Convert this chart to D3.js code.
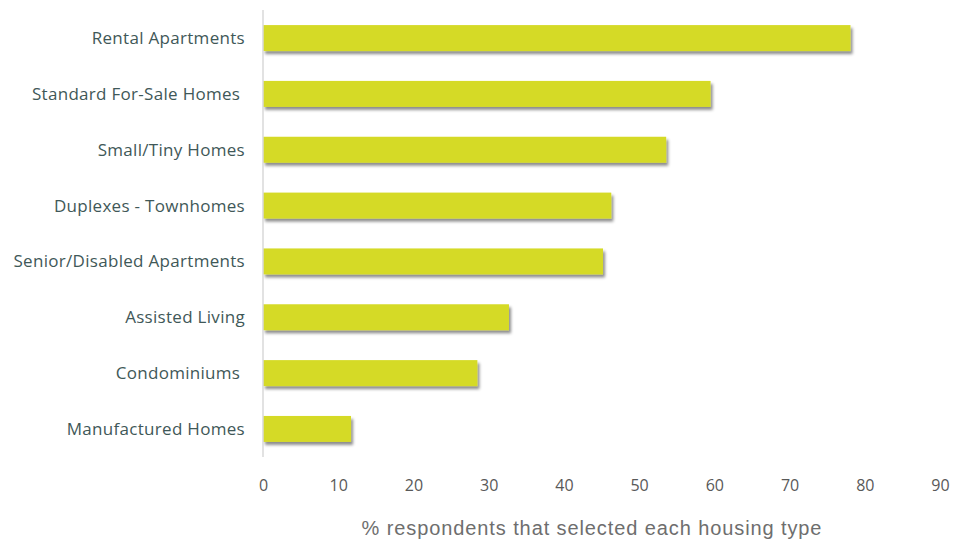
<!DOCTYPE html>
<html>
<head>
<meta charset="utf-8">
<script src="https://cdn.jsdelivr.net/npm/d3@7"></script>
<style>
  body { margin: 0; background: #fff; }
</style>
</head>
<body>
<script>
// categories, top to bottom
var categories = ["Rental Apartments", "Standard For-Sale Homes ", "Small/Tiny Homes", "Duplexes - Townhomes",
  "Senior/Disabled Apartments", "Assisted Living", "Condominiums ", "Manufactured Homes"];
// % respondents
var values = [78.1, 59.5, 53.6, 46.3, 45.2, 32.7, 28.5, 11.7];
var tickValues = [0, 10, 20, 30, 40, 50, 60, 70, 80, 90];

var width = 956, height = 539;

var svg = d3.select("body").append("svg")
    .attr("width", width)
    .attr("height", height);

// drop shadow under the bars
var defs = svg.append("defs");
defs.append("filter")
    .attr("id", "shadow")
    .attr("x", "-5%").attr("y", "-30%")
    .attr("width", "115%").attr("height", "180%")
  .append("feDropShadow")
    .attr("dx", 2).attr("dy", 3)
    .attr("stdDeviation", 1.8)
    .attr("flood-color", "#000")
    .attr("flood-opacity", 0.45);

var x = d3.scaleLinear().domain([0, 90]).range([263, 940]);
var y = d3.scaleBand().domain(categories).range([10, 457]).paddingInner(0.535).paddingOuter(0.27);

// bars
svg.selectAll("rect.bar")
  .data(values)
  .enter().append("rect")
    .attr("class", "bar")
    .attr("x", x(0))
    .attr("y", function(d, i) { return y(categories[i]); })
    .attr("width", function(d) { return x(d) - x(0); })
    .attr("height", y.bandwidth())
    .attr("fill", "#d5da26")
    .attr("filter", "url(#shadow)");

// vertical axis line
svg.append("line")
    .attr("x1", x(0)).attr("x2", x(0))
    .attr("y1", 10).attr("y2", 457)
    .attr("stroke", "#d9d9d9")
    .attr("stroke-width", 1.5);

// category labels
svg.selectAll("text.cat")
  .data(categories)
  .enter().append("text")
    .attr("class", "cat")
    .attr("x", 245)
    .attr("y", function(d) { return y(d) + y.bandwidth() / 2; })
    .attr("dy", "0.35em")
    .attr("text-anchor", "end")
    .attr("font-family", "'Open Sans', sans-serif")
    .attr("font-size", 17)
    .attr("letter-spacing", 0.3)
    .attr("fill", "#3f5858")
    .attr("xml:space", "preserve")
    .text(function(d) { return d; });

// x axis tick labels
var xAxis = svg.append("g")
    .attr("transform", "translate(0,473)")
    .call(d3.axisBottom(x).tickValues(tickValues).tickSize(0).tickPadding(7));
xAxis.select(".domain").remove();
xAxis.selectAll("text")
    .attr("font-family", "'Open Sans', sans-serif")
    .attr("font-size", 16)
    .attr("fill", "#595959");

// axis title
svg.append("text")
    .attr("x", 592)
    .attr("y", 535)
    .attr("text-anchor", "middle")
    .attr("font-family", "'Liberation Sans', Arial, sans-serif")
    .attr("font-size", 20)
    .attr("letter-spacing", 0.9)
    .attr("fill", "#6e6e6e")
    .text("% respondents that selected each housing type");
</script>
</body>
</html>
